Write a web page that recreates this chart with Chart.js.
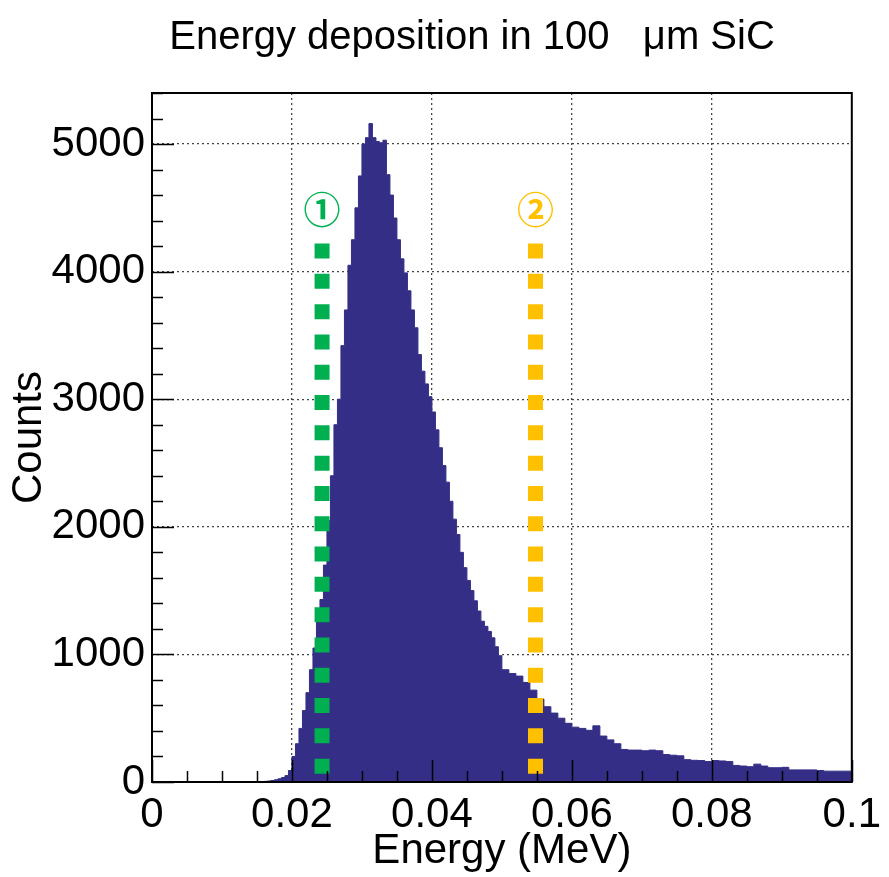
<!DOCTYPE html>
<html><head><meta charset="utf-8">
<script src="https://cdn.jsdelivr.net/npm/chart.js@4.4.1/dist/chart.umd.min.js"></script>
<style>html,body{margin:0;padding:0;background:#fff}#wrap{width:889px;height:877px}</style>
</head><body><div id="wrap"><canvas id="c" width="889" height="877"></canvas></div>
<script>
const chartTitle = 'Energy deposition in 100   \u03bcm SiC';
const xAxisTitle = 'Energy (MeV)';
const yAxisTitle = 'Counts';
const xTickValues = [0, 0.02, 0.04, 0.06, 0.08, 0.1];
const xTickLabels = ['0', '0.02', '0.04', '0.06', '0.08', '0.1'];
const yTickValues = [0, 1000, 2000, 3000, 4000, 5000];
const yTickLabels = ['0', '1000', '2000', '3000', '4000', '5000'];
const xMinorStep = 0.005;
const yMinorStep = 200;

const binLowEdges = [0,
  0.015,0.0155,0.016,0.0165,0.017,0.0175,0.018,0.0185,0.019,0.0195,
  0.020,0.0205,0.021,0.0215,0.022,0.0225,0.023,0.0235,0.024,0.0245,
  0.025,0.0255,0.026,0.0265,0.027,0.0275,0.028,0.0285,0.029,0.0295,
  0.030,0.0305,0.031,0.0315,0.032,0.0325,0.033,0.0335,0.034,0.0345,
  0.035,0.0355,0.036,0.0365,0.037,0.0375,0.038,0.0385,0.039,0.0395,
  0.040,0.0405,0.041,0.0415,0.042,0.0425,0.043,0.0435,0.044,0.0445,
  0.045,0.0455,0.046,0.0465,0.047,0.0475,0.048,0.0485,0.049,0.0495,
  0.050,0.051,0.052,0.053,0.054,0.055,0.056,0.057,0.058,0.059,
  0.060,0.061,0.062,0.063,0.064,0.065,0.066,0.067,0.068,0.069,
  0.070,0.071,0.072,0.073,0.074,0.075,0.076,0.077,0.078,0.079,
  0.080,0.081,0.082,0.083,0.084,0.085,0.086,0.087,0.088,0.089,
  0.090,0.091,0.092,0.093,0.094,0.095,0.096,0.097,0.098,0.099];
const histUpperEdge = 0.1;
const counts = [0,
  2,3,5,8,12,18,25,35,50,90,
  200,300,420,560,700,880,1050,1300,1430,1700,
  2050,2400,2800,3000,3420,3700,4050,4250,4500,4750,
  5000,5050,5160,5050,5020,5010,5030,4760,4600,4420,
  4250,4100,3990,3850,3700,3560,3350,3220,3120,3020,
  2900,2760,2620,2480,2350,2200,2060,1940,1800,1680,
  1580,1500,1420,1340,1260,1220,1180,1130,1060,990,
  880,850,830,780,720,650,590,540,500,460,
  430,420,405,440,360,330,300,255,250,250,
  245,250,245,215,210,205,175,170,168,160,
  168,165,160,130,125,120,140,125,112,112,
  115,95,95,95,95,90,85,85,85,85];

const markerEnergies = [0.0243, 0.0548];
const markerLabels = ['\u2460', '\u2461'];
const markerColors = ['#00B050', '#FFC000'];
const markerTopCount = 4220;
const markerBottomCount = 55;
const markerLabelCount = 4480;

const histPoints = binLowEdges.map((e, i) => ({x: e, y: counts[i]}));
histPoints.push({x: histUpperEdge, y: counts[counts.length - 1]});

const datasets = [{
  label: 'hist', data: histPoints, stepped: true, fill: 'origin',
  backgroundColor: '#342e87', borderColor: '#342e87', borderWidth: 1,
  pointRadius: 0, order: 3
}];
markerEnergies.forEach((e, i) => {
  datasets.push({
    label: markerLabels[i], data: [{x: e, y: markerTopCount}, {x: e, y: markerBottomCount}],
    borderColor: markerColors[i], borderWidth: 15, borderDash: [15, 15.3],
    borderCapStyle: 'butt', pointRadius: 0, fill: false, order: 1
  });
});

const FONT = '"Liberation Sans", Arial, Helvetica, sans-serif';

const decor = {
  id: 'decor',
  afterDatasetsDraw(chart) {
    const {ctx, chartArea: a, scales: {x, y}} = chart;
    ctx.save();
    ctx.strokeStyle = '#000';
    ctx.lineWidth = 1.5;
    ctx.beginPath();
    for (let v = 0; v <= 0.1 + 1e-9; v += xMinorStep) {
      const px = Math.round(x.getPixelForValue(v)) + 0.5;
      const major = Math.abs(v / 0.02 - Math.round(v / 0.02)) < 1e-6;
      const len = major ? 22 : 11;
      ctx.moveTo(px, a.bottom); ctx.lineTo(px, a.bottom - len);
    }
    for (let v = 0; v <= 5400 + 1e-6; v += yMinorStep) {
      const py = Math.round(y.getPixelForValue(v)) + 0.5;
      const major = v % 1000 === 0;
      const len = major ? 22 : 11;
      ctx.moveTo(a.left, py); ctx.lineTo(a.left + len, py);
    }
    ctx.stroke();
    ctx.lineWidth = 2;
    ctx.strokeRect(a.left, a.top, a.right - a.left, a.bottom - a.top);
    ctx.restore();
  },
  afterDraw(chart) {
    const {ctx, scales: {x, y}} = chart;
    ctx.save();
    ctx.fillStyle = '#000';
    ctx.font = '40px ' + FONT;
    ctx.textAlign = 'center';
    ctx.textBaseline = 'middle';
    ctx.fillText(chartTitle, 472, 38);
    ctx.font = 'bold 37px "Noto Sans CJK JP", "DejaVu Sans", sans-serif';
    markerEnergies.forEach((e, i) => {
      ctx.fillStyle = markerColors[i];
      ctx.fillText(markerLabels[i], x.getPixelForValue(e), y.getPixelForValue(markerLabelCount));
    });
    ctx.restore();
  }
};

const gridColor = (c) => (c.tick && (c.tick.value === 0 || Math.abs(c.tick.value - 0.1) < 1e-9)) ? 'rgba(0,0,0,0)' : '#444';

new Chart(document.getElementById('c'), {
  type: 'line',
  data: {datasets},
  options: {
    responsive: false, animation: false, devicePixelRatio: 1,
    layout: {padding: {top: 93, right: 33, left: 0, bottom: 0}},
    plugins: {legend: {display: false}, tooltip: {enabled: false}, title: {display: false}},
    scales: {
      x: {
        type: 'linear', min: 0, max: 0.1,
        afterBuildTicks: (s) => { s.ticks = xTickValues.map(v => ({value: v})); },
        afterFit: (s) => { s.height = 95; },
        ticks: {
          autoSkip: false, maxRotation: 0, padding: 8, color: '#000',
          font: {family: FONT, size: 42},
          callback: (v) => { const i = xTickValues.findIndex(t => Math.abs(t - v) < 1e-9); return i >= 0 ? xTickLabels[i] : ''; }
        },
        grid: {color: gridColor, lineWidth: 1.3, drawTicks: false},
        border: {display: false, dash: [2, 3]},
        title: {display: true, text: xAxisTitle, color: '#000', font: {family: FONT, size: 42}, padding: {top: 0, bottom: 0}}
      },
      y: {
        type: 'linear', min: 0, max: 5400,
        afterBuildTicks: (s) => { s.ticks = yTickValues.map(v => ({value: v})); },
        afterFit: (s) => { s.width = 152; },
        ticks: {
          autoSkip: false, padding: 7, color: '#000',
          font: {family: FONT, size: 42},
          callback: (v) => { const i = yTickValues.indexOf(v); return i >= 0 ? yTickLabels[i] : ''; }
        },
        grid: {color: gridColor, lineWidth: 1.3, drawTicks: false},
        border: {display: false, dash: [2, 3]},
        title: {display: true, text: yAxisTitle, color: '#000', font: {family: FONT, size: 42}, padding: {top: 4, bottom: 0}}
      }
    }
  },
  plugins: [decor]
});
</script>
</body></html>
